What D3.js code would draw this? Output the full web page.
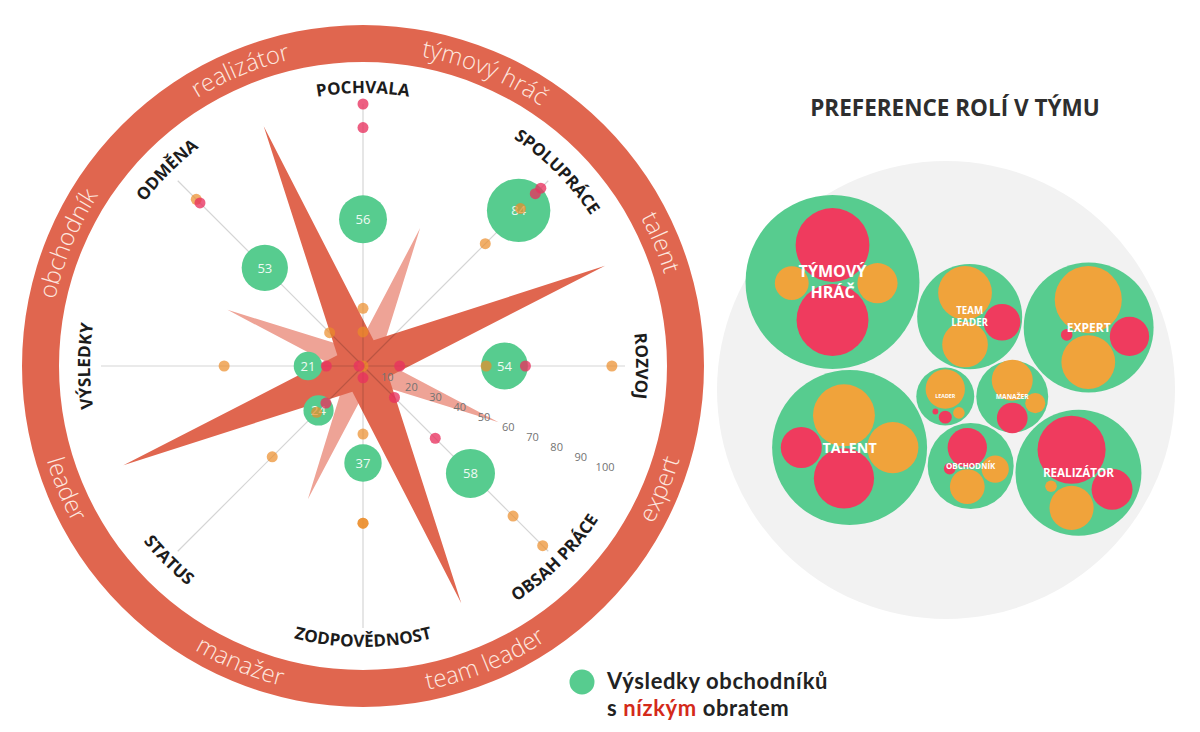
<!DOCTYPE html>
<html><head><meta charset="utf-8">
<script src="https://cdn.jsdelivr.net/npm/d3@7"></script>
<style>body{margin:0;background:#fff;} svg{display:block;}</style>
</head><body><svg id="c" width="1200" height="732"></svg>
<script>
// ---------- DATA ----------
const axes = ["POCHVALA","SPOLUPRÁCE","ROZVOJ","OBSAH PRÁCE","ZODPOVĚDNOST","STATUS","VÝSLEDKY","ODMĚNA"];
const lowTurnover = [56,84,54,58,37,24,21,53];
const pinkDots1   = [100,96,14,17,4.5,20,14,88];
const pinkDots2   = [91,93,62,39,null,null,1.5,null];
const orangeDots1 = [22,85,47,81,26,25,53,90];
const orangeDots2 = [13,66,95,97,60,49,0,18];
const orangeDots3 = [null,null,null,null,60,null,null,null];
const scaleTicks  = [10,20,30,40,50,60,70,80,90,100];
const ringRoles   = ["týmový hráč","talent","expert","team leader","manažer","leader","obchodník","realizátor"];
const ringSpikes  = [57,100,56,98,55,99,56,99];
const darkValley = 10.6, lightValley = 6.7;

// role preference bubbles (pack order: LEADER first, then neighbours)
const roleNames  = ["LEADER","MANAŽER","OBCHODNÍK","TEAM LEADER","REALIZÁTOR","EXPERT","TALENT","TÝMOVÝ HRÁČ"];
const roleTotals = [50,77,110,164,236,251,357,450];
const roleParts = [
  [["O",23],["P",2.5],["O",2],["P",0.5]],
  [["O",25],["P",14],["O",6]],
  [["P",23],["O",18],["O",11],["P",2]],
  [["O",43],["O",31],["P",20]],
  [["P",69],["O",29],["P",25],["O",2]],
  [["O",67],["O",43],["P",23],["P",2]],
  [["O",57],["P",54],["O",39],["P",25]],
  [["P",81],["P",77],["O",24],["O",17]]
];
const titleText = "PREFERENCE ROLÍ V TÝMU";
const legendLine1 = "Výsledky obchodníků";
const legendLine2 = ["s ", "nízkým", " obratem"];

// ---------- STYLE ----------
const RED = "#e0664f", GREEN = "#57cc8f";
const FONT = "'Open Sans', sans-serif";
const svg = d3.select("#c");
const cx = 363, cy = 366;
const r = d3.scaleLinear().domain([0,100]).range([0,262]);
const rad = d => d*Math.PI/180;
const axisAngle = i => i*45;
const ringAngle = i => 22.5 + i*45;

const defs = svg.append("defs");
const g = svg.append("g").attr("transform",`translate(${cx},${cy})`);

// ring
g.append("path").attr("d", d3.arc()({innerRadius:304, outerRadius:341, startAngle:0, endAngle:2*Math.PI})).attr("fill", RED);

function arcPath(rr, aDeg, span, flip){
  const a0 = rad(aDeg-span), a1 = rad(aDeg+span);
  const p = a => [rr*Math.sin(a), -rr*Math.cos(a)];
  if(!flip){ const s=p(a0), e=p(a1); return `M${s[0]},${s[1]}A${rr},${rr} 0 0 1 ${e[0]},${e[1]}`; }
  const s=p(a1), e=p(a0); return `M${s[0]},${s[1]}A${rr},${rr} 0 0 0 ${e[0]},${e[1]}`;
}
const isFlip = a => a>90 && a<270;

ringRoles.forEach((t,i)=>{
  const a = ringAngle(i), f = isFlip(a);
  defs.append("path").attr("id","ring"+i).attr("d", arcPath(f?330:315, a, 40, f));
  g.append("text").attr("font-family",FONT).attr("font-weight",300)
    .attr("font-size",24).attr("fill","#fde6df")
    .append("textPath").attr("href","#ring"+i).attr("startOffset","50%").attr("text-anchor","middle").text(t);
});

// spikes
const spikeLine = d3.lineRadial().angle(d=>rad(d.a)).radius(d=>r(d.v)).curve(d3.curveLinearClosed);
const lightPts = ringSpikes.map((v,i)=>({a:ringAngle(i), v: i%2===0 ? v : lightValley}));
const darkPts  = ringSpikes.map((v,i)=>({a:ringAngle(i), v: i%2===1 ? v : darkValley}));
g.append("path").attr("d", spikeLine(lightPts)).attr("fill","#eea396");
g.append("path").attr("d", spikeLine(darkPts)).attr("fill", RED);

// axis lines
axes.forEach((a,i)=>{
  const an = rad(axisAngle(i));
  g.append("line").attr("x1",0).attr("y1",0)
    .attr("x2", r(100)*Math.sin(an)).attr("y2", -r(100)*Math.cos(an))
    .attr("stroke","rgba(0,0,0,0.17)").attr("stroke-width",1.2);
});

// axis labels
axes.forEach((t,i)=>{
  const a = axisAngle(i), f = isFlip(a);
  defs.append("path").attr("id","ax"+i).attr("d", arcPath(f?281:273, a, 40, f));
  g.append("text").attr("font-family",FONT).attr("font-weight",700)
    .attr("font-size",17).attr("fill","#1c1c1c")
    .append("textPath").attr("href","#ax"+i).attr("startOffset","50%").attr("text-anchor","middle").text(t);
});

// scale tick labels
const tickA = rad(112.5);
g.selectAll(".tick").data(scaleTicks).join("text")
  .attr("x", d=>r(d)*Math.sin(tickA)).attr("y", d=>-r(d)*Math.cos(tickA))
  .attr("text-anchor","middle").attr("dominant-baseline","central")
  .attr("font-family",FONT).attr("font-size",11).attr("fill","#737373").text(d=>d);

// green bubbles
const bubbleR = d3.scaleLinear().domain([20,85]).range([14,32]);
const pos = (i,v) => { const an = rad(axisAngle(i)); return [r(v)*Math.sin(an), -r(v)*Math.cos(an)]; };
lowTurnover.forEach((v,i)=>{
  const [x,y] = pos(i,v);
  g.append("circle").attr("cx",x).attr("cy",y).attr("r",bubbleR(v)).attr("fill",GREEN);
  g.append("text").attr("x",x).attr("y",y).attr("text-anchor","middle").attr("dominant-baseline","central")
    .attr("font-family",FONT).attr("font-size",13).attr("fill","#effaf3").text(v);
});

// dots
function dots(arr, color, op){
  arr.forEach((v,i)=>{
    if(v===null) return;
    const [x,y] = pos(i,v);
    g.append("circle").attr("cx",x).attr("cy",y).attr("r",5.5).attr("fill",color).attr("fill-opacity",op);
  });
}
dots(orangeDots2, "#eb8c28", 0.7);
dots(orangeDots3, "#eb8c28", 0.7);
dots(orangeDots1, "#eb8c28", 0.7);
dots(pinkDots2, "#e8325f", 0.78);
dots(pinkDots1, "#e8325f", 0.78);

// ---------- PACKED BUBBLES ----------
const sizeR = d3.scaleSqrt().domain([0,100]).range([0,41]);
const colors = {P:"#ef3b5e", O:"#f0a33b"};
const parents = roleNames.map((name,k)=>{
  const kids = roleParts[k].map(([grp,v])=>({grp, v, r: sizeR(v)+1}));
  d3.packSiblings(kids);
  kids.forEach(c=>{ const t=c.x; c.x=c.y; c.y=t; c.r-=1; });
  const enc = d3.packEnclose(kids);
  kids.forEach(c=>{ c.x-=enc.x; c.y-=enc.y; });
  return {name, kids, r: sizeR(roleTotals[k])};
});
const packNodes = parents.map(p=>({p, r:p.r+1}));
d3.packSiblings(packNodes);
const encAll = d3.packEnclose(packNodes);
const bgX = 946, bgY = 390, bgR = 229;       // background disc
const clX = 946, clY = 370;                  // cluster centre
svg.insert("circle","g").attr("cx",bgX).attr("cy",bgY).attr("r",bgR).attr("fill","#f2f2f2");
const pg = svg.append("g").attr("transform",`translate(${clX-encAll.x},${clY-encAll.y})`);
packNodes.forEach(n=>{
  const gg = pg.append("g").attr("transform",`translate(${n.x},${n.y})`);
  gg.append("circle").attr("r",n.p.r).attr("fill",GREEN);
  n.p.kids.forEach(c=>gg.append("circle").attr("cx",c.x).attr("cy",c.y).attr("r",c.r).attr("fill",colors[c.grp]));
  const fs = n.p.r*0.185;
  const words = n.p.name.split(" ");
  const lines = (n.p.r>70 || (n.p.r>50 && n.p.r<55)) && words.length>1 ? words : [n.p.name];
  const tx = gg.append("text").attr("text-anchor","middle").attr("font-family",FONT)
    .attr("font-weight",700).attr("font-size",fs).attr("fill","#fff");
  lines.forEach((l,j)=>tx.append("tspan").attr("x",0).attr("y",(j-(lines.length-1)/2)*fs*1.3).attr("dy","0.35em").text(l));
});

// title
svg.append("text").attr("x",955).attr("y",116).attr("text-anchor","middle")
  .attr("font-family",FONT).attr("font-weight",700).attr("font-size",22.5).attr("fill","#2e2e2e").text(titleText);

// legend
svg.append("circle").attr("cx",582).attr("cy",682).attr("r",12.5).attr("fill",GREEN);
const lt = svg.append("g").attr("font-family","Lato, sans-serif").attr("font-weight",700).attr("font-size",22)
  .attr("letter-spacing",0.6).attr("fill","#222");
lt.append("text").attr("x",607).attr("y",689).text(legendLine1);
const l2 = lt.append("text").attr("x",607).attr("y",716);
legendLine2.forEach((s,i)=>l2.append("tspan").attr("fill", i===1?"#d42a1a":"#222").text(s));
</script></body></html>
